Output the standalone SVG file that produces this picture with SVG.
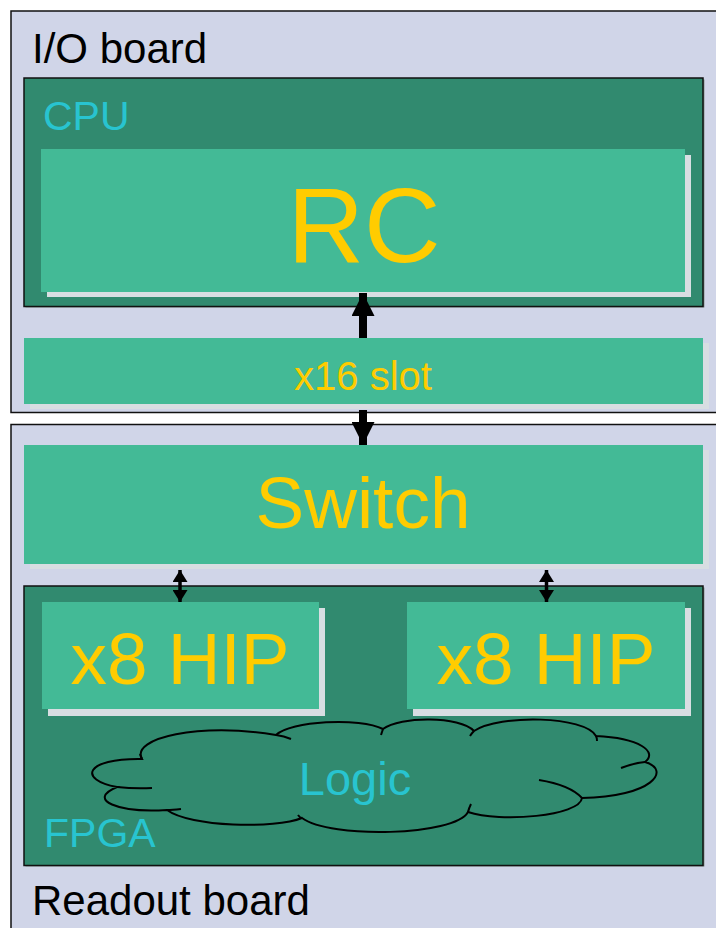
<svg xmlns="http://www.w3.org/2000/svg" width="716" height="928" viewBox="0 0 716 928">
  <style>
    .board { fill: #D0D5E8; stroke: #111; stroke-width: 1.5; }
    .chip { fill: #318A6F; stroke: #111; stroke-width: 1.5; }
    .block { fill: #43BA96; }
    .shadow { fill: #D8DEE2; }
    .lbl { font-family: "Liberation Sans", Arial, sans-serif; }
    .dark { fill: #000; }
    .cyan { fill: #28C4D0; }
    .yellow { fill: #FFCC00; }
    .cloud { fill: #318A6F; stroke: #000; stroke-width: 2; }
    .fold { fill: none; stroke: #000; stroke-width: 2; }
    .wire { stroke: #000; }
  </style>
  <defs>
    <marker id="headBig" viewBox="0 0 23 23" refX="23" refY="11.5" markerWidth="23" markerHeight="23" markerUnits="userSpaceOnUse" orient="auto-start-reverse">
      <path d="M0,0 L23,11.5 L0,23 Z" fill="#000"/>
    </marker>
    <marker id="headSmall" viewBox="0 0 12 15" refX="12" refY="7.5" markerWidth="12" markerHeight="15" markerUnits="userSpaceOnUse" orient="auto-start-reverse">
      <path d="M0,0 L12,7.5 L0,15 Z" fill="#000"/>
    </marker>
  </defs>

  <rect width="716" height="928" fill="#FFFFFF"/>

  <!-- I/O board -->
  <g id="io-board">
    <rect class="board" x="11" y="11" width="720" height="401.5"/>
    <text class="lbl dark" x="32" y="63" font-size="42">I/O board</text>
  </g>

  <!-- CPU with root complex -->
  <g id="cpu">
    <rect x="25.5" y="79.5" width="679" height="228" fill="#8A9A94"/>
    <rect class="chip" x="24" y="78" width="679" height="228.5"/>
    <text class="lbl cyan" x="43" y="130" font-size="41">CPU</text>
  </g>
  <g id="rc">
    <rect class="shadow" x="47" y="155" width="644" height="142"/>
    <rect class="block" x="41" y="149" width="644" height="143"/>
    <text class="lbl yellow" x="364" y="262" font-size="106" text-anchor="middle">RC</text>
  </g>

  <g id="slot">
    <rect class="shadow" x="30" y="343" width="679" height="66"/>
    <rect class="block" x="24" y="338" width="679" height="66"/>
    <text class="lbl yellow" x="363" y="390" font-size="40" text-anchor="middle">x16 slot</text>
  </g>

  <!-- Readout board -->
  <g id="readout-board">
    <rect class="board" x="11" y="424.5" width="720" height="520"/>
    <text class="lbl dark" x="32" y="915" font-size="42">Readout board</text>
  </g>

  <g id="switch">
    <rect class="shadow" x="30" y="450" width="679" height="119"/>
    <rect class="block" x="24" y="445" width="679" height="119"/>
    <text class="lbl yellow" x="363" y="528" font-size="73" text-anchor="middle">Switch</text>
  </g>

  <g id="fpga">
    <rect x="25.5" y="587.5" width="679" height="279" fill="#8A9A94"/>
    <rect class="chip" x="24" y="586" width="679" height="279.5"/>
    <text class="lbl cyan" x="44" y="847" font-size="41">FPGA</text>
  </g>

  <g id="hip-left">
    <rect class="shadow" x="48" y="608" width="277" height="108"/>
    <rect class="block" x="42" y="602" width="277" height="107"/>
    <text class="lbl yellow" x="180" y="684" font-size="73" text-anchor="middle">x8 HIP</text>
  </g>

  <g id="hip-right">
    <rect class="shadow" x="413" y="608" width="278" height="108"/>
    <rect class="block" x="407" y="602" width="278" height="107"/>
    <text class="lbl yellow" x="546" y="684" font-size="73" text-anchor="middle">x8 HIP</text>
  </g>

  <g id="logic">
    <path class="cloud" d="M142,759 C130,738 200,722 276,735 C290,721 360,717 383,729 C400,716 460,716 474,731 C500,714 585,716 596,736 C640,738 658,752 645,762 C672,770 652,797 582,798 C580,816 500,823 468,812 C455,836 330,839 302,818 C275,829 190,827 167,810 C118,813 86,800 117,787 C78,780 84,758 142,759 Z"/>
    <path class="fold" d="M276,735 Q284,736 291,739"/>
    <path class="fold" d="M383,729 Q382,732 381,735"/>
    <path class="fold" d="M474,731 Q472,733 470,736"/>
    <path class="fold" d="M596,736 Q597,738 597,741"/>
    <path class="fold" d="M645,762 Q634,763 621,768"/>
    <path class="fold" d="M582,798 Q570,785 539,780"/>
    <path class="fold" d="M468,812 Q469,808 471,804"/>
    <path class="fold" d="M302,818 Q300,818 298,815"/>
    <path class="fold" d="M167,810 Q172,810 181,809"/>
    <path class="fold" d="M117,787 Q135,789 152,788"/>
    <path class="fold" d="M142,759 Q141,757 140,754"/>
    <text class="lbl cyan" x="355" y="795" font-size="47" text-anchor="middle">Logic</text>
  </g>

  <!-- links between blocks -->
  <g id="connectors">
    <line class="wire" x1="363" y1="338" x2="363" y2="293" stroke-width="8" marker-end="url(#headBig)"/>
    <line class="wire" x1="363" y1="410" x2="363" y2="445" stroke-width="8" marker-end="url(#headBig)"/>
    <line class="wire" x1="180" y1="570" x2="180" y2="602" stroke-width="3.5" marker-start="url(#headSmall)" marker-end="url(#headSmall)"/>
    <line class="wire" x1="546.5" y1="570" x2="546.5" y2="602" stroke-width="3.5" marker-start="url(#headSmall)" marker-end="url(#headSmall)"/>
  </g>
</svg>
